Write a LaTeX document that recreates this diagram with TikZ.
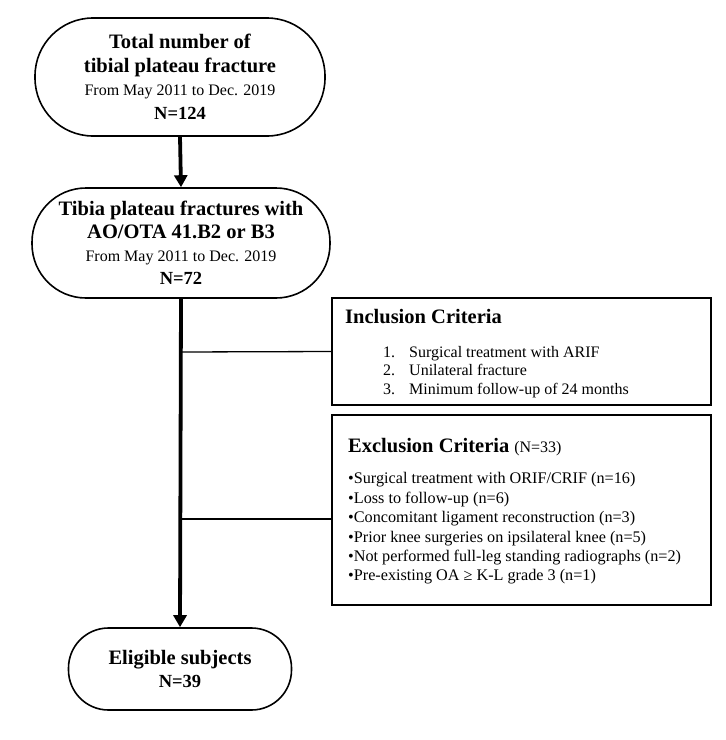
\documentclass[tikz,border=0pt]{standalone}
\usepackage{fontspec}
\setmainfont{Liberation Serif}
\usetikzlibrary{arrows.meta}
\tikzset{
  stadium/.style={draw, line width=1.6pt, rounded corners=#1, align=center, inner sep=0pt},
  critbox/.style={draw, line width=1.6pt, inner sep=0pt},
  flow/.style={line width=3.8pt, -{Triangle[length=12pt,width=13pt]}},
  branch/.style={line width=1.3pt},
  bigb/.style={font=\fontsize{20.5}{23}\selectfont\bfseries},
  small/.style={font=\fontsize{16}{19}\selectfont}
}
\newcommand{\tb}[1]{{\fontsize{20.5}{23}\selectfont\bfseries #1}}
\newcommand{\tr}[1]{{\fontsize{16}{23}\selectfont #1}}
\newcommand{\tnb}[1]{{\fontsize{18.5}{23}\selectfont\bfseries #1}}
\begin{document}
\begin{tikzpicture}[x=1pt,y=-1pt]
\useasboundingbox (0,0) rectangle (726,740);
\node[stadium=58pt, minimum width=290pt, minimum height=118pt, font=\fontsize{16}{23.5}\selectfont] (total) at (180,77)
  {\tb{Total number of}\\ \tb{tibial plateau fracture}\\ \tr{From May 2011 to Dec. 2019}\\ \tnb{N=124}};
\node[stadium=54pt, minimum width=298pt, minimum height=110pt, font=\fontsize{16}{23}\selectfont] (tibia) at (181,243)
  {\tb{Tibia plateau fractures with}\\ \tb{AO/OTA 41.B2 or B3}\\ \tr{From May 2011 to Dec. 2019}\\ \tnb{N=72}};
\node[stadium=40pt, minimum width=223pt, minimum height=82pt, font=\fontsize{16}{23}\selectfont] (elig) at (180,669)
  {\tb{Eligible subjects}\\ \tnb{N=39}};

\node[critbox, minimum width=379pt, minimum height=107pt] (inc) at (521.5,351.5) {};
\node[critbox, minimum width=379pt, minimum height=190pt] (exc) at (521.5,510) {};

\node[bigb, anchor=west, inner sep=0pt] (inctitle) at (345,317) {Inclusion Criteria};
\node[small, anchor=west, align=left, inner sep=0pt, font=\fontsize{16}{18.5}\selectfont] (inclist) at (383,372)
  {\makebox[26pt][l]{1.}Surgical treatment with ARIF\\
   \makebox[26pt][l]{2.}Unilateral fracture\\
   \makebox[26pt][l]{3.}Minimum follow-up of 24 months};

\node[anchor=west, inner sep=0pt] (exctitle) at (348,447)
  {\tb{Exclusion Criteria}\hspace{5pt}{\fontsize{16}{19}\selectfont (N=33)}};
\node[anchor=west, align=left, inner sep=0pt, font=\fontsize{16.2}{19.4}\selectfont] (exclist) at (348,528.5)
  {•Surgical treatment with ORIF/CRIF (n=16)\\
   •Loss to follow-up (n=6)\\
   •Concomitant ligament reconstruction (n=3)\\
   •Prior knee surgeries on ipsilateral knee (n=5)\\
   •Not performed full-leg standing radiographs (n=2)\\
   •Pre-existing OA ≥ K-L grade 3 (n=1)};

\coordinate (j1) at (180,352);
\coordinate (j2) at (180,519);
\draw[flow] (total.south) -- (tibia.north);
\draw[flow] (tibia.south) -- (elig.north);
\draw[branch] (j1) -- (inc.west);
\draw[branch] (j2) -- (j2 -| exc.west);
\end{tikzpicture}
\end{document}
